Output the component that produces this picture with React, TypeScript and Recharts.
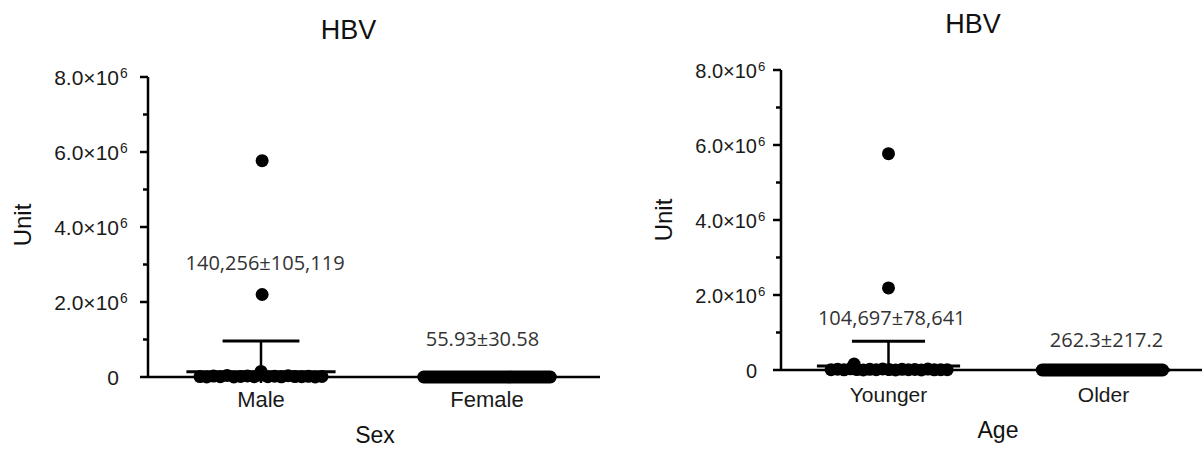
import React from 'react';
import { ScatterChart, Scatter, XAxis, YAxis, ReferenceLine } from 'recharts';

// ---------- data ----------
const sexCategories = ['Male', 'Female'];
const ageCategories = ['Younger', 'Older'];

const yTicks = [0, 1000000, 2000000, 3000000, 4000000, 5000000, 6000000, 7000000, 8000000];
const yTickBase = ['0', '', '2.0×10', '', '4.0×10', '', '6.0×10', '', '8.0×10'];
const yTickExp = ['', '', '6', '', '6', '', '6', '', '6'];

// horizontal spread of each dot inside its column (dot-plot layout), and its value
const maleOffsets = [-0.27, -0.24, -0.21, -0.18, -0.15, -0.12, -0.09, -0.06, -0.03, 0.0, 0.03, 0.06, 0.09, 0.12, 0.15, 0.18, 0.21, 0.24, 0.27, 0.0, 0.005, 0.005];
const maleValues = [12000, 3000, 25000, 8000, 41000, 2000, 15000, 30000, 6000, 52000, 9000, 21000, 4000, 33000, 11000, 7000, 18000, 1000, 14000, 150000, 2200000, 5770000];

const femaleOffsets = [
  -0.28, -0.27, -0.26, -0.25, -0.24, -0.23, -0.22, -0.21, -0.2, -0.19, -0.18, -0.17, -0.16, -0.15, -0.14, -0.13, -0.12, -0.11, -0.1,
  -0.09, -0.08, -0.07, -0.06, -0.05, -0.04, -0.03, -0.02, -0.01, 0, 0.01, 0.02, 0.03, 0.04, 0.05, 0.06, 0.07, 0.08, 0.09,
  0.1, 0.11, 0.12, 0.13, 0.14, 0.15, 0.16, 0.17, 0.18, 0.19, 0.2, 0.21, 0.22, 0.23, 0.24, 0.25, 0.26, 0.27, 0.28,
];
const femaleValues = [
  12, 85, 0, 40, 210, 5, 63, 18, 120, 30, 0, 75, 9, 150, 44, 22, 96, 3, 58,
  130, 15, 70, 27, 180, 8, 50, 35, 110, 19, 66, 2, 140, 48, 11, 88, 31, 0, 57,
  160, 24, 7, 99, 39, 13, 72, 250, 4, 61, 29, 105, 16, 43, 83, 1, 37, 125, 20,
];

const youngerOffsets = [-0.267, -0.237, -0.207, -0.177, -0.147, -0.117, -0.087, -0.057, -0.027, 0.003, 0.033, 0.063, 0.093, 0.123, 0.153, 0.183, 0.213, 0.243, 0.273, -0.16, 0.0, 0.0];
const youngerValues = [9000, 22000, 4000, 31000, 12000, 2000, 17000, 6000, 26000, 11000, 3000, 19000, 8000, 14000, 1000, 24000, 5000, 10000, 7000, 160000, 2190000, 5770000];

const olderOffsets = [
  -0.285, -0.275, -0.265, -0.255, -0.245, -0.235, -0.225, -0.215, -0.205, -0.195, -0.185, -0.175, -0.165, -0.155, -0.145, -0.135, -0.125, -0.115, -0.105,
  -0.095, -0.085, -0.075, -0.065, -0.055, -0.045, -0.035, -0.025, -0.015, -0.005, 0.005, 0.015, 0.025, 0.035, 0.045, 0.055, 0.065, 0.075, 0.085,
  0.095, 0.105, 0.115, 0.125, 0.135, 0.145, 0.155, 0.165, 0.175, 0.185, 0.195, 0.205, 0.215, 0.225, 0.235, 0.245, 0.255, 0.265, 0.275,
];
const olderValues = [
  45, 320, 10, 980, 150, 60, 410, 5, 230, 90, 700, 30, 180, 520, 15, 260, 75, 1200, 40,
  130, 360, 20, 610, 85, 200, 50, 440, 110, 25, 290, 8, 850, 170, 65, 380, 12, 540, 95,
  210, 35, 470, 140, 2, 330, 80, 1500, 55, 250, 18, 620, 100, 190, 28, 400, 70, 160, 48,
];

const sexMeans = [140256, 55.93];
const sexErrTops = [960000, 86.51];
const ageMeans = [104697, 262.3];
const ageErrTops = [770000, 479.5];

const sexAnnotations = ['140,256±105,119', '55.93±30.58'];
const sexAnnotationY = [2850000, 830000];
const ageAnnotations = ['104,697±78,641', '262.3±217.2'];
const ageAnnotationY = [1200000, 610000];

// ---------- styling ----------
const SANS = '"Liberation Sans", Arial, sans-serif';
const NOTE = '"Open Sans", "Noto Sans", sans-serif';

const leftCfg = {
  left: 0, w: 620,
  margin: { top: 77, right: 20, bottom: 42, left: 68 },
  gap: 29, yfs: 21, xfs: 22, xdy: 22,
  meanHalf: [0.33, 0.3], capHalf: 0.17, annDx: [0.018, -0.02],
};
const rightCfg = {
  left: 640, w: 600,
  margin: { top: 70, right: 29, bottom: 49, left: 61 },
  gap: 24, yfs: 20, xfs: 21, xdy: 24,
  meanHalf: [0.333, 0.31], capHalf: 0.17, annDx: [0.015, 0.014],
};

function YTick(props: any) {
  const { x, y, payload, cfg } = props;
  const idx = yTicks.indexOf(payload.value);
  const axisX = x + 8;
  const major = yTickBase[idx] !== '';
  const len = major ? 8 : 5;
  return (
    <g>
      <line x1={axisX - len} x2={axisX} y1={y} y2={y} stroke="#000" strokeWidth={2.5} />
      {major && (
        <text x={axisX - cfg.gap} y={y + 8} textAnchor="end" fontSize={cfg.yfs} fontFamily={SANS} fill="#1a1a1a">
          {yTickBase[idx]}
        </text>
      )}
      {major && yTickExp[idx] && (
        <text x={axisX - cfg.gap + 1} y={y + 1} textAnchor="start" fontSize={cfg.yfs * 0.66} fontFamily={SANS} fill="#1a1a1a">
          {yTickExp[idx]}
        </text>
      )}
    </g>
  );
}

function XTick(props: any) {
  const { x, y, payload, cfg, categories } = props;
  const label = categories[Math.round(payload.value - 0.5)];
  return (
    <text x={x} y={y} dy={cfg.xdy} textAnchor="middle" fontSize={cfg.xfs} fontFamily={SANS} fill="#1a1a1a">
      {label}
    </text>
  );
}

function Panel(props: any) {
  const { cfg, categories, groups, means, errTops, annotations, annotationY } = props;
  const points = groups.flatMap((g: any, gi: number) =>
    g.offsets.map((o: number, i: number) => ({ x: gi + 0.5 + o, y: g.values[i] }))
  );
  const annData = annotations.map((t: string, i: number) => ({
    x: i + 0.5 + cfg.annDx[i],
    y: annotationY[i],
    text: t,
  }));
  return (
    <div style={{ position: 'absolute', left: cfg.left, top: 0 }}>
      <ScatterChart width={cfg.w} height={449} margin={cfg.margin}>
        <XAxis
          type="number" dataKey="x" domain={[0, 2]} ticks={[0.5, 1.5]} interval={0}
          height={30} tickSize={6} tickMargin={2}
          axisLine={{ stroke: '#000', strokeWidth: 2.5 }}
          tickLine={{ stroke: '#000', strokeWidth: 2.5 }}
          tick={(p: any) => <XTick {...p} cfg={cfg} categories={categories} />}
        />
        <YAxis
          type="number" dataKey="y" domain={[0, 8000000]} ticks={yTicks} interval={0}
          width={80} tickSize={6} tickMargin={2}
          axisLine={{ stroke: '#000', strokeWidth: 2.5 }}
          tickLine={false}
          tick={(p: any) => <YTick {...p} cfg={cfg} />}
        />
        <Scatter
          data={points} isAnimationActive={false}
          shape={(p: any) => <circle cx={p.cx} cy={p.cy} r={6.5} fill="#000" />}
        />
        {means.map((m: number, i: number) => (
          <ReferenceLine
            key={'mean' + i}
            segment={[{ x: i + 0.5 - cfg.meanHalf[i], y: m }, { x: i + 0.5 + cfg.meanHalf[i], y: m }]}
            stroke="#000" strokeWidth={3} ifOverflow="visible"
          />
        ))}
        {means.map((m: number, i: number) => (
          <ReferenceLine
            key={'stem' + i}
            segment={[{ x: i + 0.5, y: m }, { x: i + 0.5, y: errTops[i] }]}
            stroke="#000" strokeWidth={2.5} ifOverflow="visible"
          />
        ))}
        {errTops.map((e: number, i: number) => (
          <ReferenceLine
            key={'cap' + i}
            segment={[{ x: i + 0.5 - cfg.capHalf, y: e }, { x: i + 0.5 + cfg.capHalf, y: e }]}
            stroke="#000" strokeWidth={3} ifOverflow="visible"
          />
        ))}
        <Scatter
          data={annData} isAnimationActive={false}
          shape={(p: any) => (
            <text x={p.cx} y={p.cy} textAnchor="middle" fontSize={20} fontFamily={NOTE} fill="#333">
              {p.payload.text}
            </text>
          )}
        />
      </ScatterChart>
    </div>
  );
}

export default function App() {
  return (
    <div style={{ position: 'fixed', left: 0, top: 0, width: 1202, height: 449, overflow: 'hidden', background: '#fff' }}>
      <Panel
        cfg={leftCfg}
        categories={sexCategories}
        groups={[{ offsets: maleOffsets, values: maleValues }, { offsets: femaleOffsets, values: femaleValues }]}
        means={sexMeans}
        errTops={sexErrTops}
        annotations={sexAnnotations}
        annotationY={sexAnnotationY}
      />
      <Panel
        cfg={rightCfg}
        categories={ageCategories}
        groups={[{ offsets: youngerOffsets, values: youngerValues }, { offsets: olderOffsets, values: olderValues }]}
        means={ageMeans}
        errTops={ageErrTops}
        annotations={ageAnnotations}
        annotationY={ageAnnotationY}
      />
      <svg width={1202} height={449} style={{ position: 'absolute', left: 0, top: 0, pointerEvents: 'none' }}>
        <text x={348.5} y={39} textAnchor="middle" fontSize={27} fontFamily={SANS} fill="#111">HBV</text>
        <text x={973} y={33} textAnchor="middle" fontSize={27} fontFamily={SANS} fill="#111">HBV</text>
        <text x={31} y={225} transform="rotate(-90, 31, 225)" textAnchor="middle" fontSize={24} fontFamily={SANS} fill="#111">Unit</text>
        <text x={672} y={220} transform="rotate(-90, 672, 220)" textAnchor="middle" fontSize={24} fontFamily={SANS} fill="#111">Unit</text>
        <text x={375} y={443} textAnchor="middle" fontSize={23} fontFamily={SANS} fill="#111">Sex</text>
        <text x={998} y={438} textAnchor="middle" fontSize={23} fontFamily={SANS} fill="#111">Age</text>
      </svg>
    </div>
  );
}
